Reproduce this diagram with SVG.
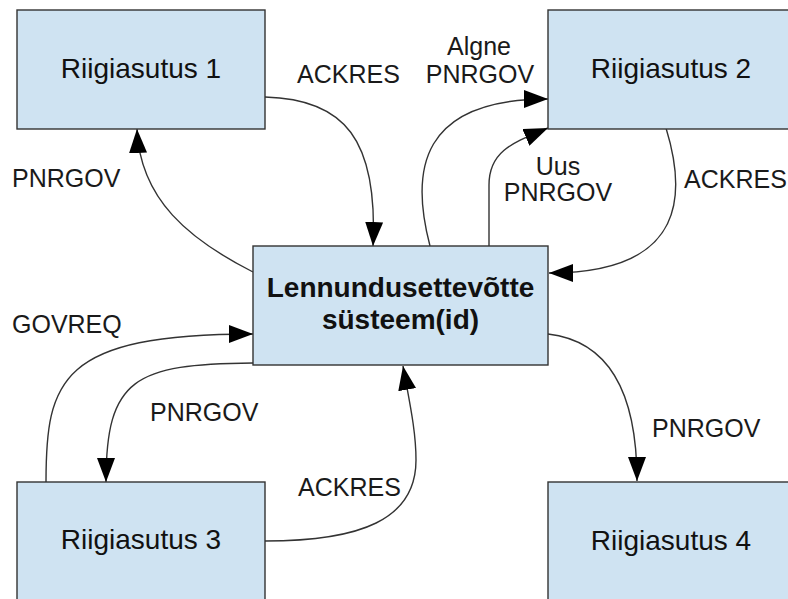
<svg xmlns="http://www.w3.org/2000/svg" width="788" height="599" viewBox="0 0 788 599">
  <style>
    .box { fill: #cfe3f2; stroke: #333333; stroke-width: 1.4; }
    .name { font-family: "Liberation Sans", Arial, sans-serif; font-size: 28px; fill: #111111; text-anchor: middle; }
    .bold { font-weight: bold; }
    .lbl { font-family: "Liberation Sans", Arial, sans-serif; font-size: 25px; fill: #1a1a1a; }
    .mid { text-anchor: middle; }
    .wire { fill: none; stroke: #333333; stroke-width: 1.4; marker-end: url(#head); }
  </style>
  <defs>
    <marker id="head" markerUnits="userSpaceOnUse" markerWidth="24" markerHeight="18" refX="24" refY="9" orient="auto" viewBox="0 0 24 18">
      <path d="M0,0 L24,9 L0,18 Z" fill="#000000"/>
    </marker>
  </defs>
  <rect width="788" height="599" fill="#ffffff"/>

  <!-- connectors -->
  <g id="connectors">
    <path class="wire" d="M265,97 C345,99 378,140 373,246"/>
    <path class="wire" d="M253,272 C190,240 140,200 137,129"/>
    <path class="wire" d="M430,246 C410,170 420,99 548,99"/>
    <path class="wire" d="M489,246 L489,185 C489,150 515,142 548,128"/>
    <path class="wire" d="M666,128 C685,190 690,273 549,273"/>
    <path class="wire" d="M46,482 C46,380 60,334 253,334"/>
    <path class="wire" d="M253,363 C135,364 106,378 106,482"/>
    <path class="wire" d="M265,541 C360,541 416,520 416,460 C416,430 409,400 403,366"/>
    <path class="wire" d="M548,334 C600,340 637,380 637,481"/>
  </g>

  <!-- connector labels -->
  <g id="labels">
    <text class="lbl" x="297" y="83">ACKRES</text>
    <text class="lbl" x="12" y="187">PNRGOV</text>
    <text class="lbl mid" x="479" y="55">Algne</text>
    <text class="lbl mid" x="480" y="83">PNRGOV</text>
    <text class="lbl mid" x="558" y="175">Uus</text>
    <text class="lbl mid" x="558" y="201">PNRGOV</text>
    <text class="lbl" x="684" y="188">ACKRES</text>
    <text class="lbl" x="12" y="333">GOVREQ</text>
    <text class="lbl" x="150" y="421">PNRGOV</text>
    <text class="lbl" x="298" y="496">ACKRES</text>
    <text class="lbl" x="652" y="437">PNRGOV</text>
  </g>

  <!-- nodes -->
  <g id="riigiasutus1">
    <rect class="box" x="17" y="10" width="248" height="119"/>
    <text class="name" x="141" y="78">Riigiasutus 1</text>
  </g>
  <g id="riigiasutus2">
    <rect class="box" x="548" y="10" width="248" height="119"/>
    <text class="name" x="671" y="78">Riigiasutus 2</text>
  </g>
  <g id="lennundus">
    <rect class="box" x="253" y="246" width="295" height="119"/>
    <text class="name bold" x="400.5" y="297">Lennundusettevõtte</text>
    <text class="name bold" x="400.5" y="329">süsteem(id)</text>
  </g>
  <g id="riigiasutus3">
    <rect class="box" x="17" y="482" width="248" height="119"/>
    <text class="name" x="141" y="549">Riigiasutus 3</text>
  </g>
  <g id="riigiasutus4">
    <rect class="box" x="548" y="482" width="248" height="119"/>
    <text class="name" x="671" y="550">Riigiasutus 4</text>
  </g>
</svg>
